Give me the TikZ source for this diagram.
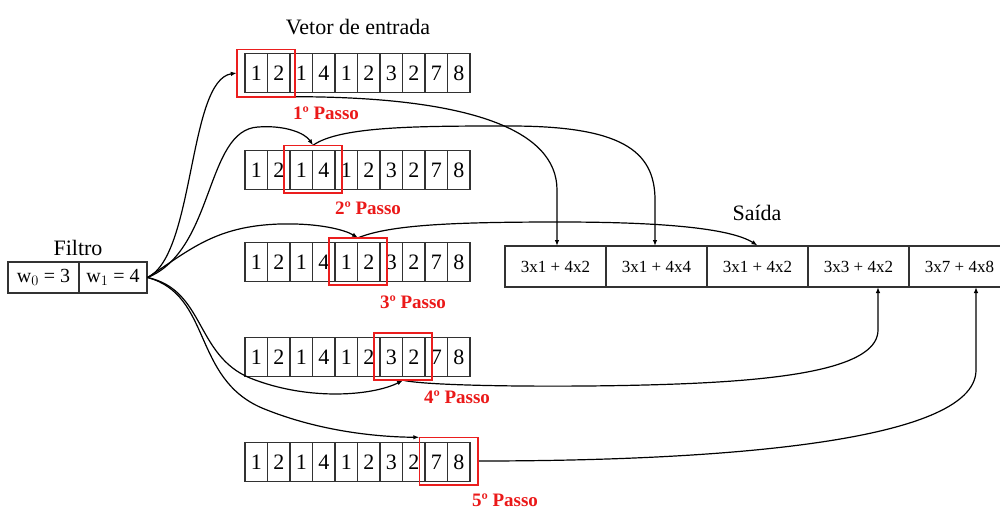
\documentclass[tikz,border=0pt]{standalone}
\usepackage{fontspec}
\setmainfont{Liberation Serif}
\usetikzlibrary{arrows.meta}
\definecolor{boxred}{RGB}{235,30,30}
\definecolor{txtred}{RGB}{235,25,25}
\definecolor{cellgray}{RGB}{50,50,50}
\tikzset{
  cell/.style={draw=cellgray, line width=1.1pt, minimum width=22.5pt, minimum height=39pt, inner sep=0pt, font=\fontsize{22}{22}\selectfont},
  redbox/.style={minimum width=58pt, minimum height=47pt, inner sep=0pt},
  redline/.style={draw=boxred, line width=1.6pt},
  passo/.style={text=txtred, font=\fontsize{19}{19}\selectfont\bfseries, inner sep=0pt},
  title/.style={font=\fontsize{22}{22}\selectfont, inner sep=0pt},
  outcell/.style={draw=cellgray, line width=1.1pt, minimum width=101pt, minimum height=41pt, inner sep=0pt, font=\fontsize{17}{17}\selectfont},
  filtcell/.style={draw=cellgray, line width=1.1pt, minimum height=31pt, inner sep=0pt, font=\fontsize{20}{20}\selectfont},
  conn/.style={line width=1.2pt, -{Latex[length=6pt,width=4.5pt]}}
}
\begin{document}
\begin{tikzpicture}[x=1pt,y=-1pt]
\useasboundingbox (0,0) rectangle (1000,509);
\fill[white] (0,0) rectangle (1000,509);

% titles
\node[title] (tin) at (358,27) {Vetor de entrada};
\node[title] (tfil) at (78,248) {Filtro};
\node[title] (tout) at (757,213) {Saída};

% input rows
\foreach \r/\y in {1/73,2/170,3/262,4/357,5/462}{
  \foreach \v [count=\c] in {1,2,1,4,1,2,3,2,7,8}{
    \node[cell] (r\r c\c) at ({245+22.5*(\c-0.5)},\y) {\v};
  }
}

% red boxes (positions)
\node[redbox] (s1) at (266,73) {};
\node[redbox] (s2) at (313,169) {};
\node[redbox] (s3) at (358,261.5) {};
\node[redbox] (s4) at (403,356.5) {};
\node[redbox] (s5) at (448.5,461) {};

% passo labels
\node[passo] (p1) at (326,113) {1º Passo};
\node[passo] (p2) at (368,208) {2º Passo};
\node[passo] (p3) at (413,302) {3º Passo};
\node[passo] (p4) at (457,397) {4º Passo};
\node[passo] (p5) at (505,500) {5º Passo};

% filter
\node[filtcell, minimum width=71pt] (f1) at (43.5,277.5) {w$_0$ = 3};
\node[filtcell, minimum width=68pt] (f2) at (113,277.5) {w$_1$ = 4};

% output
\node[outcell] (o1) at (555.5,266.5) {3x1 + 4x2};
\node[outcell] (o2) at (656.5,266.5) {3x1 + 4x4};
\node[outcell] (o3) at (757.5,266.5) {3x1 + 4x2};
\node[outcell] (o4) at (858.5,266.5) {3x3 + 4x2};
\node[outcell] (o5) at (959.5,266.5) {3x7 + 4x8};
\coordinate (o4in) at (878,287);
\coordinate (o5in) at (976,287);
\coordinate (o1in) at (557,246);
\coordinate (o2in) at (655,246);

% filter to rows
\draw[conn] (f2.east) .. controls (195,255) and (188,80) .. (s1.west);
\draw[conn] (f2.east) .. controls (215,250) and (205,130) .. (258,127) .. controls (285,125) and (305,133) .. (s2.north);
\draw[conn] (f2.east) .. controls (190,250) and (215,226) .. (280,224) .. controls (320,223) and (345,230) .. (s3.north);
\draw[conn] (f2.east) .. controls (205,290) and (195,355) .. (250,378) .. controls (310,402) and (375,395) .. (s4.south);
\draw[conn] (f2.east) .. controls (212,295) and (192,378) .. (262,408) .. controls (320,432) and (380,437) .. (s5.north west);

% rows to output
\draw[conn] (s1.south east) .. controls (470,97) and (557,130) .. (557,190) -- (o1in);
\draw[conn] (s2.north) .. controls (340,126) and (420,126) .. (510,126) .. controls (620,126) and (655,150) .. (655,200) -- (o2in);
\draw[conn] (s3.north) .. controls (390,225) and (450,222) .. (560,222) .. controls (660,222) and (730,228) .. (o3.north);
\draw[conn] (s4.south) .. controls (430,387) and (600,388) .. (700,383) .. controls (800,378) and (878,365) .. (878,330) -- (o4in);
\draw[conn] (s5.east) .. controls (700,461) and (976,445) .. (976,370) -- (o5in);

% red boxes drawn on top
\foreach \s in {s1,s2,s3,s4,s5}{
  \draw[redline] (\s.north west) rectangle (\s.south east);
}
\end{tikzpicture}
\end{document}
